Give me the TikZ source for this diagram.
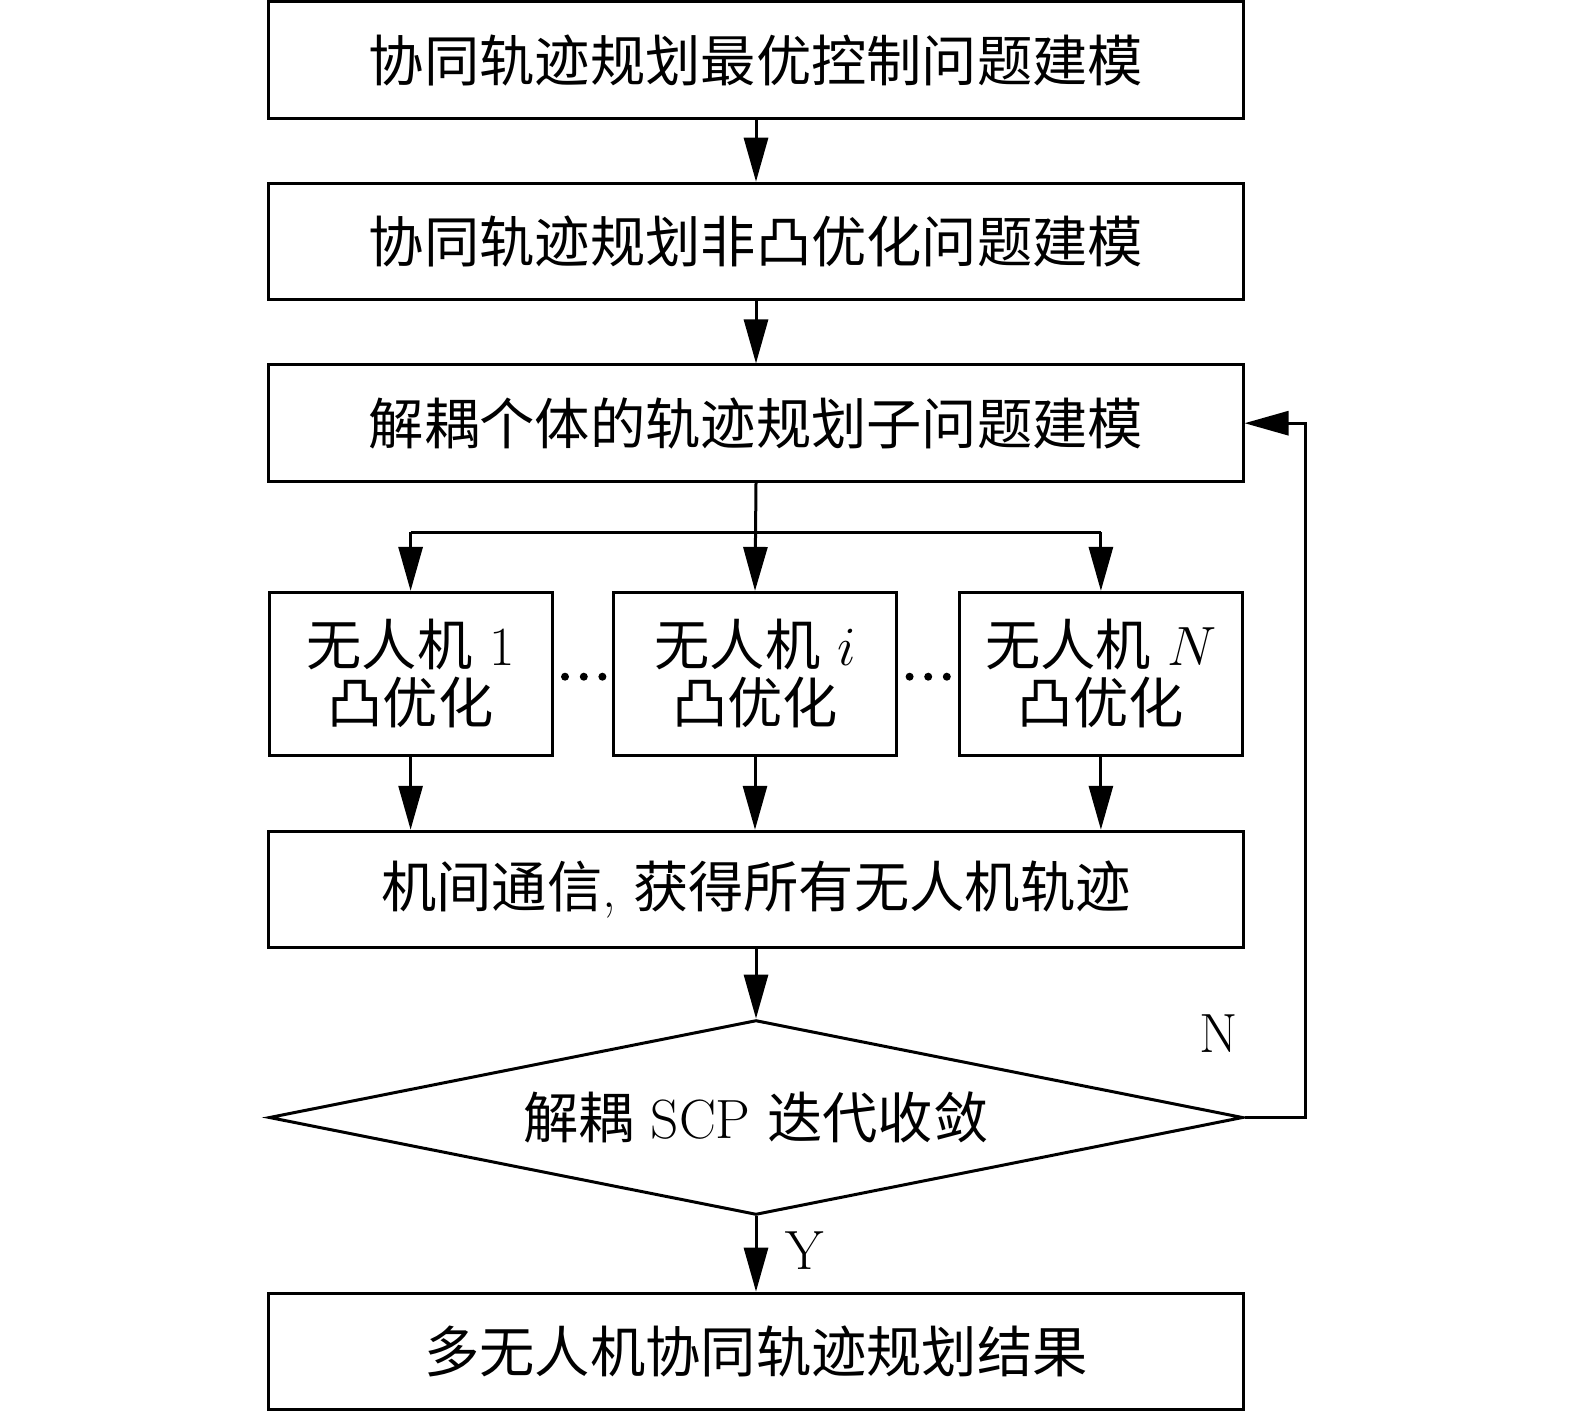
\RequirePackage{fix-cm}
\documentclass[tikz,border=0pt]{standalone}
\usepackage{fontspec}
\newfontfamily\cjk{Noto Sans CJK SC}
\usetikzlibrary{shapes.geometric,arrows.meta}
\begin{document}
\begin{tikzpicture}[x=1bp,y=-1bp,
  every node/.style={font=\fontsize{55.3bp}{58.5bp}\selectfont},
  wide/.style={draw, line width=3bp, minimum width=974bp, minimum height=116.5bp, inner sep=0pt},
  small/.style={draw, line width=3bp, minimum width=283bp, minimum height=162.6bp, inner sep=0pt, align=center},
  dec/.style={draw, diamond, aspect=5, line width=3bp, minimum width=974bp, minimum height=194.8bp, inner sep=0pt},
  conn/.style={line width=3bp, -{Triangle[length=44bp,width=24bp]}},
  plain/.style={line width=3bp},
  dotmark/.style={fill, circle, inner sep=0pt, minimum size=8bp}]
\useasboundingbox (0,0) rectangle (1575,1411);
\node[wide] (b1) at (756,60.2) {\cjk 协同轨迹规划最优控制问题建模};
\node[wide] (b2) at (756,241.5) {\cjk 协同轨迹规划非凸优化问题建模};
\node[wide] (b3) at (756,423.2) {\cjk 解耦个体的轨迹规划子问题建模};
\node[small] (s1) at (410.6,673.7) {{\cjk 无人机} 1\\{\cjk 凸优化}};
\node[small] (s2) at (755,673.7) {{\cjk 无人机} $i$\\{\cjk 凸优化}};
\node[small] (s3) at (1100.9,673.7) {{\cjk 无人机} $N$\\{\cjk 凸优化}};
\node[wide] (b4) at (756,889.5) {{\cjk 机间通信}, {\cjk 获得所有无人机轨迹}};
\node[dec] (d) at (756,1117.5) {{\cjk 解耦} SCP {\cjk 迭代收敛}};
\node[wide] (b5) at (756,1351.4) {\cjk 多无人机协同轨迹规划结果};
\node[dotmark] (da1) at (565,676.7) {};
\node[dotmark] (da2) at (583.8,676.7) {};
\node[dotmark] (da3) at (602.4,676.7) {};
\node[dotmark] (db1) at (909.6,676.7) {};
\node[dotmark] (db2) at (928.2,676.7) {};
\node[dotmark] (db3) at (946.8,676.7) {};
\coordinate (br) at (756,532);
\coordinate (brl) at (s1.north |- br);
\coordinate (brr) at (s3.north |- br);
\coordinate (fb) at (1305,1117.5);
\draw[conn] (b1) -- (b2);
\draw[conn] (b2) -- (b3);
\draw[conn] (b3.south) -- (s2.north);
\draw[plain] (brl) -- (brr);
\draw[conn] (brl) -- (s1.north);
\draw[conn] (brr) -- (s3.north);
\draw[conn] (s1.south) -- (s1.south |- b4.north);
\draw[conn] (s2.south) -- (s2.south |- b4.north);
\draw[conn] (s3.south) -- (s3.south |- b4.north);
\draw[conn] (b4) -- (d.north);
\draw[conn] (d.south) -- node[right=25bp, pos=0.45] (ylab) {Y} (b5.north);
\draw[conn] (d.east) -- (fb) |- (b3.east);
\node (nlab) at (1219,1034) {N};
\end{tikzpicture}
\end{document}
